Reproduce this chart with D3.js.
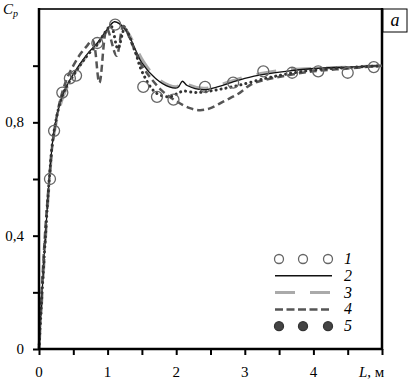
<!DOCTYPE html>
<html>
<head>
<meta charset="utf-8">
<script src="https://cdn.jsdelivr.net/npm/d3@7"></script>
<style>
  body { margin: 0; background: #fff; }
  text { font-family: "Liberation Serif", "Times New Roman", serif; }
</style>
</head>
<body>
<svg id="chart"></svg>
<script>
// experiment (series 1), open circles
const expL  = [0.16, 0.22, 0.34, 0.45, 0.54, 0.85, 1.11, 1.52, 1.72, 1.96, 2.42, 2.83, 3.27, 3.69, 4.07, 4.50, 4.88];
const expCp = [0.60, 0.77, 0.905, 0.955, 0.965, 1.08, 1.145, 0.925, 0.89, 0.88, 0.925, 0.94, 0.98, 0.975, 0.98, 0.975, 0.995];

// calculated curves
const line2L  = [0, 0.05, 0.1, 0.15, 0.22, 0.35, 0.5, 0.7, 0.85, 1.0, 1.1, 1.25, 1.4, 1.5, 1.7, 1.9, 2.02, 2.09, 2.16, 2.4, 2.6, 2.8, 3.0, 3.3, 3.6, 4.0, 4.5, 5.0];
const line2Cp = [0, 0.22, 0.42, 0.6, 0.77, 0.9, 0.97, 1.04, 1.08, 1.13, 1.155, 1.13, 1.06, 1.01, 0.955, 0.925, 0.922, 0.945, 0.93, 0.915, 0.925, 0.94, 0.955, 0.97, 0.98, 0.99, 0.995, 1.0];

const line3L  = [0, 0.05, 0.1, 0.15, 0.22, 0.35, 0.5, 0.7, 0.85, 1.0, 1.12, 1.27, 1.42, 1.52, 1.7, 1.9, 2.02, 2.09, 2.16, 2.4, 2.6, 2.8, 3.0, 3.3, 3.6, 4.0, 4.5, 5.0];
const line3Cp = [0, 0.21, 0.41, 0.59, 0.76, 0.89, 0.965, 1.035, 1.075, 1.125, 1.15, 1.125, 1.06, 1.015, 0.96, 0.93, 0.927, 0.95, 0.935, 0.92, 0.93, 0.945, 0.96, 0.975, 0.985, 0.99, 0.995, 1.0];

const line4L  = [0, 0.05, 0.1, 0.15, 0.2, 0.3, 0.4, 0.5, 0.6, 0.7, 0.78, 0.88, 0.99, 1.13, 1.23, 1.35, 1.5, 1.65, 1.8, 2.0, 2.2, 2.35, 2.5, 2.7, 2.9, 3.1, 3.3, 3.6, 4.0, 4.5, 5.0];
const line4Cp = [0, 0.25, 0.45, 0.6, 0.73, 0.87, 0.95, 1.0, 1.04, 1.07, 1.09, 0.94, 1.13, 1.035, 1.14, 1.08, 1.0, 0.95, 0.91, 0.875, 0.85, 0.843, 0.85, 0.875, 0.9, 0.935, 0.95, 0.965, 0.98, 0.99, 1.0];

const line5L  = [0, 0.05, 0.1, 0.15, 0.22, 0.35, 0.5, 0.7, 0.85, 0.97, 1.05, 1.15, 1.25, 1.4, 1.5, 1.7, 1.9, 2.0, 2.1, 2.3, 2.6, 2.9, 3.3, 3.6, 4.0, 4.5, 5.0];
const line5Cp = [0, 0.22, 0.42, 0.6, 0.77, 0.9, 0.965, 1.035, 1.075, 1.12, 1.14, 1.06, 1.13, 1.05, 0.98, 0.905, 0.89, 0.9, 0.91, 0.905, 0.915, 0.93, 0.955, 0.97, 0.985, 0.993, 1.0];

const xTicks = [0, 0.5, 1, 1.5, 2, 2.5, 3, 3.5, 4, 4.5, 5];
const xLabels = [0, 1, 2, 3, 4];
const yTicks = [0, 0.2, 0.4, 0.6, 0.8, 1.0];
const yLabels = ['0', '0,4', '0,8'];
const yLabelVals = [0, 0.4, 0.8];
const legendKeys = ['1', '2', '3', '4', '5'];

const width = 410, height = 384;
const margin = {top: 9, right: 28, bottom: 35, left: 39};

const svg = d3.select('#chart')
              .attr('width', width)
              .attr('height', height);

const x = d3.scaleLinear().domain([0, 5]).range([margin.left, width - margin.right]);
const y = d3.scaleLinear().domain([0, 1.2]).range([height - margin.bottom, margin.top]);

// ticks
svg.append('g')
	.attr('transform', `translate(0, ${y(0)})`)
	.call(d3.axisBottom(x).tickValues(xTicks).tickSize(6).tickFormat(''))
	.call(g => g.select('.domain').remove())
	.call(g => g.selectAll('line').attr('stroke', '#000').attr('stroke-width', 2));

svg.append('g')
	.attr('transform', `translate(${x(0)}, 0)`)
	.call(d3.axisLeft(y).tickValues(yTicks).tickSize(6).tickFormat(''))
	.call(g => g.select('.domain').remove())
	.call(g => g.selectAll('line').attr('stroke', '#000').attr('stroke-width', 2));

// frame
svg.append('line')
	.attr('x1', x(0)).attr('x2', x(5)).attr('y1', y(1.2)).attr('y2', y(1.2))
	.attr('stroke', '#333').attr('stroke-width', 2);
svg.append('line')
	.attr('x1', x(5)).attr('x2', x(5)).attr('y1', y(1.2) - 1).attr('y2', y(0) + 1)
	.attr('stroke', '#000').attr('stroke-width', 2.5);

// tick labels
svg.selectAll('.xlab')
	.data(xLabels)
	.enter()
	.append('text')
	.attr('x', d => x(d))
	.attr('y', 377)
	.attr('font-size', '15px')
	.attr('text-anchor', 'middle')
	.text(d => d);

svg.selectAll('.ylab')
	.data(yLabelVals)
	.enter()
	.append('text')
	.attr('x', 24)
	.attr('y', d => y(d) + 5)
	.attr('font-size', '15px')
	.attr('text-anchor', 'end')
	.text((d, i) => yLabels[i]);

// axis titles
const cp = svg.append('text').attr('x', 3).attr('y', 14).attr('font-size', '15px');
cp.append('tspan').attr('font-style', 'italic').text('C');
cp.append('tspan').attr('font-style', 'italic').attr('font-size', '10px').attr('dy', 3).text('p');

const lt = svg.append('text').attr('x', 359).attr('y', 377).attr('font-size', '15px');
lt.append('tspan').attr('font-style', 'italic').text('L');
lt.append('tspan').text(', м');

// panel label
svg.append('rect')
	.attr('x', 383).attr('y', 9).attr('width', 24).attr('height', 23)
	.attr('fill', '#fff').attr('stroke', '#000').attr('stroke-width', 1);
svg.append('text')
	.attr('x', 395).attr('y', 26)
	.attr('font-size', '18px').attr('font-style', 'italic')
	.attr('text-anchor', 'middle')
	.text('a');

// curves
const line = d3.line()
	.x(d => x(d[0]))
	.y(d => y(d[1]))
	.curve(d3.curveCatmullRom);

const styles = {
	'2': {stroke: '#111', width: 1.3, dash: null},
	'3': {stroke: '#aaa', width: 3, dash: '20,15'},
	'4': {stroke: '#555', width: 2.5, dash: '7,4'},
	'5': {stroke: '#333', width: 3, dash: '0.1,5'}
};

const curves = [
	{key: '3', L: line3L, Cp: line3Cp},
	{key: '2', L: line2L, Cp: line2Cp},
	{key: '4', L: line4L, Cp: line4Cp},
	{key: '5', L: line5L, Cp: line5Cp}
];

svg.append('g')
	.selectAll('path')
	.data(curves)
	.enter()
	.append('path')
	.attr('fill', 'none')
	.attr('stroke', d => styles[d.key].stroke)
	.attr('stroke-width', d => styles[d.key].width)
	.attr('stroke-dasharray', d => styles[d.key].dash)
	.attr('stroke-linecap', d => d.key === '5' ? 'round' : 'butt')
	.attr('d', d => line(d.L.map((v, i) => [v, d.Cp[i]])));

svg.append('g')
	.selectAll('circle')
	.data(expL.map((v, i) => [v, expCp[i]]))
	.enter()
	.append('circle')
	.attr('cx', d => x(d[0]))
	.attr('cy', d => y(d[1]))
	.attr('r', 5.5)
	.attr('fill', 'none')
	.attr('stroke', '#666')
	.attr('stroke-width', 1.3);

// axes on top
svg.append('line')
	.attr('x1', x(0)).attr('x2', x(5) + 1).attr('y1', y(0)).attr('y2', y(0))
	.attr('stroke', '#000').attr('stroke-width', 2.5);
svg.append('line')
	.attr('x1', x(0)).attr('x2', x(0)).attr('y1', y(1.2) - 1).attr('y2', y(0) + 1)
	.attr('stroke', '#000').attr('stroke-width', 2.5);

// legend
const legend = svg.append('g').attr('transform', 'translate(275, 259)');
const rowH = 16.8;
legendKeys.forEach((k, i) => {
	const row = legend.append('g').attr('transform', `translate(0, ${i * rowH})`);
	if (k === '1' || k === '5') {
		row.selectAll('circle')
			.data([4, 28, 53])
			.enter()
			.append('circle')
			.attr('cx', d => d)
			.attr('cy', 0)
			.attr('r', 4.5)
			.attr('fill', k === '5' ? '#444' : 'none')
			.attr('stroke', k === '5' ? '#333' : '#666')
			.attr('stroke-width', 1.3);
	} else {
		row.append('line')
			.attr('x1', 0).attr('x2', k === '3' ? 55 : 57)
			.attr('y1', 0).attr('y2', 0)
			.attr('stroke', styles[k].stroke)
			.attr('stroke-width', k === '2' ? 1.5 : styles[k].width)
			.attr('stroke-dasharray', k === '3' ? '20,15' : (k === '4' ? '8,3.5' : null));
	}
	row.append('text')
		.attr('x', 69)
		.attr('y', 5)
		.attr('font-size', '16px')
		.attr('font-style', 'italic')
		.text(k);
});
</script>
</body>
</html>
